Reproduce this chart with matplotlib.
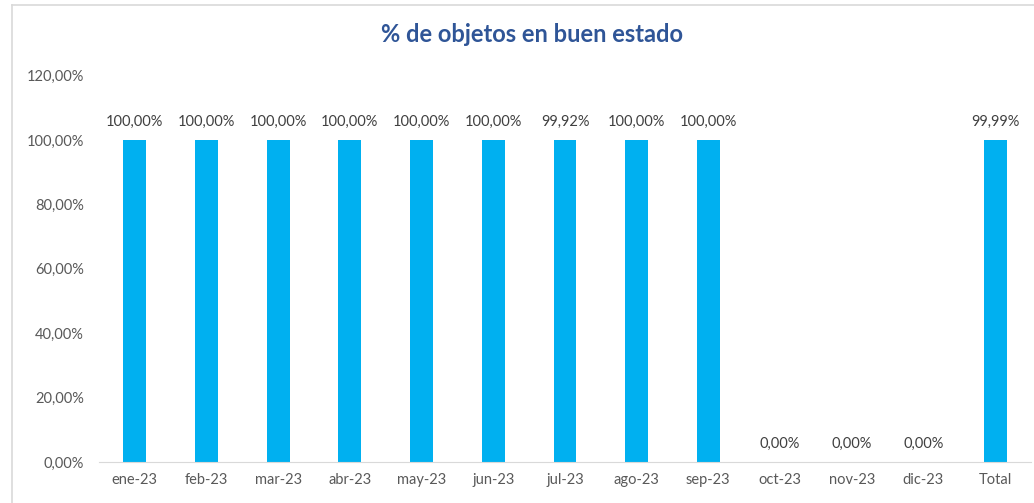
import matplotlib
matplotlib.use("Agg")
import matplotlib.pyplot as plt
from matplotlib.lines import Line2D

categories = ["ene-23", "feb-23", "mar-23", "abr-23", "may-23", "jun-23", "jul-23",
              "ago-23", "sep-23", "oct-23", "nov-23", "dic-23", "Total"]
values = [100.00, 100.00, 100.00, 100.00, 100.00, 100.00, 99.92,
          100.00, 100.00, 0.00, 0.00, 0.00, 99.99]
yticks = [0, 20, 40, 60, 80, 100, 120]

plt.rcParams['font.family'] = ['Lato', 'DejaVu Sans']
W, H = 1034, 503
fig = plt.figure(figsize=(W/100, H/100), dpi=100)
ax = fig.add_axes([99/W, 41/H, (1031-99)/W, (462-75.6)/H])

x = list(range(len(categories)))
ax.bar(x, values, width=0.32, color="#00B0F0", zorder=2)
for xi, v in zip(x, values):
    ax.annotate(f"{v:.2f}%".replace(".", ","), (xi, v), xytext=(0, 8),
                textcoords="offset points", ha="center", va="bottom",
                fontsize=10.5, color="#404040")

ax.set_xlim(-0.5, len(categories) - 0.5)
ax.set_ylim(0, 120)
ax.set_yticks(yticks)
ax.set_yticklabels([f"{t:.2f}%".replace(".", ",") for t in yticks])
ax.set_xticks(x)
ax.set_xticklabels(categories)
ax.tick_params(axis="both", length=0, labelsize=10.5, colors="#595959")
ax.tick_params(axis="y", pad=11)
ax.tick_params(axis="x", pad=8)
for s in ["top", "right", "left"]:
    ax.spines[s].set_visible(False)
ax.spines["bottom"].set_color("#D9D9D9")

fig.text(532/W, 1 - 35/H, "% de objetos en buen estado", ha="center", va="center",
         fontsize=17, fontweight="bold", color="#2F5597")

# chart frame
fig.add_artist(Line2D([12/W, 12/W], [0, 1 - 5/H], color="#D9D9D9", lw=1.2, transform=fig.transFigure))
fig.add_artist(Line2D([12/W, 1], [1 - 5/H, 1 - 5/H], color="#D9D9D9", lw=1.2, transform=fig.transFigure))

fig.savefig("out.png", dpi=100)
